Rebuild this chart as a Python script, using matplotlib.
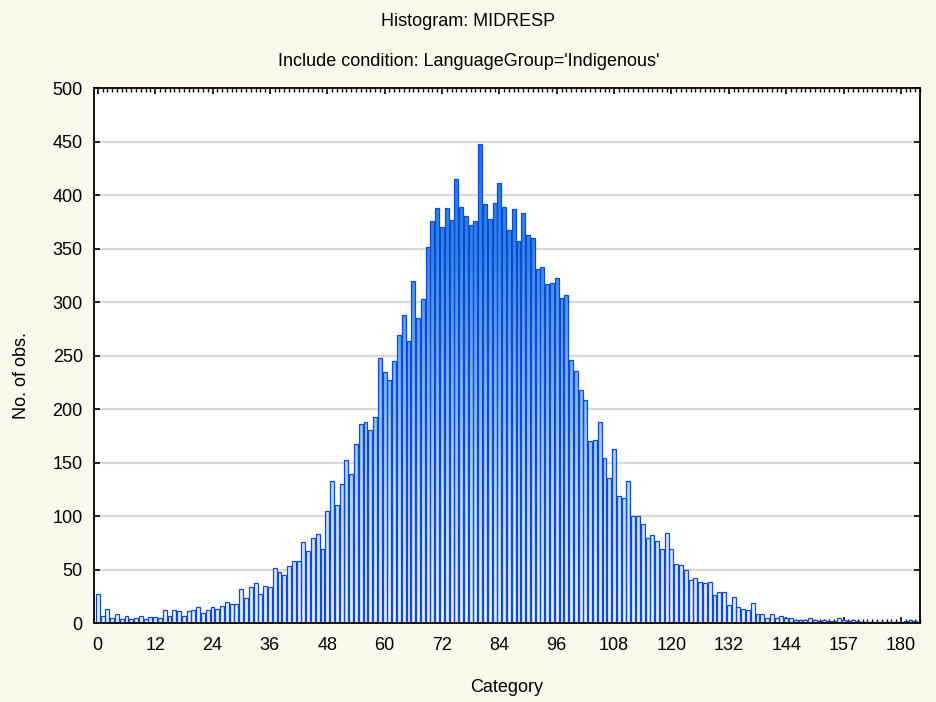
import numpy as np
import matplotlib
matplotlib.use("Agg")
import matplotlib.pyplot as plt
from matplotlib.colors import LinearSegmentedColormap
from matplotlib.path import Path
from matplotlib.patches import PathPatch
from matplotlib.ticker import FixedLocator, MultipleLocator

plt.rcParams['font.family'] = ['Liberation Sans', 'DejaVu Sans']

title_main = "Histogram: MIDRESP"
title_sub = "Include condition: LanguageGroup='Indigenous'"
x_label = "Category"
y_label = "No. of obs."

counts = [
    27, 7, 13, 5, 8, 4, 7, 4, 5, 7,
    4, 6, 6, 5, 12, 7, 12, 11, 7, 11,
    12, 15, 9, 12, 15, 13, 16, 20, 18, 18,
    32, 23, 34, 37, 27, 35, 34, 51, 48, 45,
    53, 58, 58, 76, 67, 79, 83, 69, 105, 133,
    110, 130, 152, 139, 167, 186, 188, 180, 193, 248,
    235, 227, 245, 269, 288, 264, 320, 285, 303, 351,
    376, 388, 370, 388, 377, 415, 389, 380, 372, 376,
    448, 392, 378, 393, 411, 389, 367, 387, 357, 383,
    363, 360, 331, 333, 317, 318, 322, 304, 307, 246,
    236, 218, 208, 170, 171, 188, 154, 136, 163, 119,
    117, 133, 100, 100, 93, 79, 82, 77, 69, 84,
    69, 55, 54, 50, 40, 42, 38, 37, 38, 26,
    29, 29, 17, 24, 15, 13, 12, 19, 8, 8,
    5, 8, 5, 7, 5, 5, 3, 3, 3, 5,
    3, 2, 3, 2, 2, 5, 3, 2, 3, 2,
    1, 1, 1, 1, 1, 1, 1, 1, 1, 2,
    3, 2,
]

tick_positions = [0, 12, 24, 36, 48, 60, 72, 84, 96, 108, 120, 132, 144, 156, 168]
tick_labels = ["0", "12", "24", "36", "48", "60", "72", "84", "96", "108",
               "120", "132", "144", "157", "180"]
y_ticks = [0, 50, 100, 150, 200, 250, 300, 350, 400, 450, 500]

FS = 13

fig = plt.figure(figsize=(9.37, 7.02), dpi=100, facecolor='#fdf8ec')
ax = fig.add_axes([0.1003, 0.1125, 0.8816, 0.7621])
ax.set_facecolor('white')

x = np.arange(len(counts))
xlim = (-0.8, 172.0)
ylim = (0, 500)

bars = ax.bar(x, counts, width=0.82, facecolor='none', edgecolor='#1448cf',
              linewidth=0.9, zorder=3)

paths = [b.get_path().transformed(b.get_patch_transform()) for b in bars]
compound = Path.make_compound_path(*paths)
clip_patch = PathPatch(compound, transform=ax.transData, facecolor='none',
                       edgecolor='none')
ax.add_patch(clip_patch)

cmap = LinearSegmentedColormap.from_list(
    'grad', ['#e4f1ff', '#b8d8fb', '#72b2f6', '#2b88f0', '#1676ea'])
grad = np.linspace(0, 1, 256).reshape(-1, 1)
im = ax.imshow(grad, cmap=cmap, aspect='auto', origin='lower',
               extent=(xlim[0], xlim[1], 0, 470), zorder=2,
               interpolation='bilinear')
im.set_clip_path(clip_patch)

ax.set_xlim(*xlim)
ax.set_ylim(*ylim)

ax.yaxis.set_major_locator(FixedLocator(y_ticks))
ax.grid(axis='y', color='#d9d9d9', linewidth=1.6, zorder=1)
ax.set_axisbelow(True)

ax.xaxis.set_major_locator(FixedLocator(tick_positions))
ax.set_xticklabels(tick_labels)
ax.xaxis.set_minor_locator(MultipleLocator(1))

ax.tick_params(axis='x', which='major', direction='in', length=4, width=1.2,
               top=True, bottom=True, labelsize=FS, pad=10, color='black')
ax.tick_params(axis='x', which='minor', direction='in', length=3, width=1.0,
               top=True, bottom=True, color='black')
ax.tick_params(axis='y', which='major', direction='in', length=4, width=1.2,
               left=True, right=True, labelsize=FS, pad=8, color='black')

for s in ax.spines.values():
    s.set_color('black')
    s.set_linewidth(1.3)
    s.set_zorder(5)

fig.text(507 / 937, 1 - 687 / 702, x_label, ha='center', va='center', fontsize=FS)
fig.text(22 / 937, 1 - 376 / 702, y_label, ha='center', va='center',
         rotation=90, fontsize=FS)

fig.text(0.5, 1 - 22 / 702, title_main, ha='center', va='center', fontsize=FS)
fig.text(0.5, 1 - 61 / 702, title_sub, ha='center', va='center', fontsize=FS)

fig.savefig('out.png', dpi=100, facecolor=fig.get_facecolor())
